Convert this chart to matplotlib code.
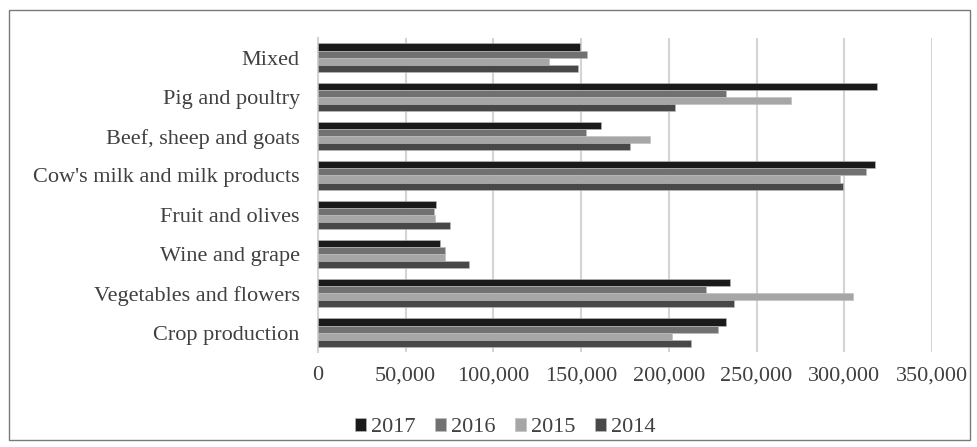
import numpy as np
import matplotlib.pyplot as plt
from matplotlib.patches import Rectangle
from matplotlib.ticker import FuncFormatter

# categories listed from bottom to top
categories = ["Crop production", "Vegetables and flowers", "Wine and grape",
              "Fruit and olives", "Cow's milk and milk products",
              "Beef, sheep and goats", "Pig and poultry", "Mixed"]
years = ["2017", "2016", "2015", "2014"]
v2017 = [232600, 234800, 69600, 67400, 317300, 161300, 318600, 149400]
v2016 = [227800, 221400, 72400, 66100, 312300, 152700, 232600, 153600]
v2015 = [202000, 304800, 72400, 66700, 297600, 189500, 269400, 132000]
v2014 = [212500, 237400, 86200, 75300, 299300, 177700, 203500, 148100]
colors = ["#1a1a1a", "#717171", "#a6a6a6", "#484848"]

plt.rcParams['font.family'] = ['Liberation Serif', 'DejaVu Serif']

fig = plt.figure(figsize=(9.78, 4.47), dpi=100)
fig.patches.append(Rectangle((0.009, 0.016), 0.983, 0.962, transform=fig.transFigure,
                             fill=False, edgecolor="#7a7a7a", linewidth=1))
ax = fig.add_axes([0.325, 0.212, 0.628, 0.703])

y = np.arange(len(categories))
h = 0.18
series = [v2017, v2016, v2015, v2014]
for i, (vals, yr, c) in enumerate(zip(series, years, colors)):
    offset = (1.5 - i) * h
    ax.barh(y + offset, vals, height=h, color=c, label=yr,
            edgecolor="#bdbdbd", linewidth=0.4, zorder=3)

ax.set_xlim(0, 350000)
ax.set_ylim(-0.5, len(categories) - 0.5)
ax.set_xticks(np.arange(0, 350001, 50000))
ax.xaxis.set_major_formatter(FuncFormatter(lambda v, p: f"{int(v):,}"))
ax.set_yticks(y)
ax.set_yticklabels(categories)
ax.grid(axis="x", color="#d4d4d4", linewidth=1.5, zorder=0)
for s in ["top", "right", "bottom"]:
    ax.spines[s].set_visible(False)
ax.spines["left"].set_color("#d4d4d4")
ax.spines["left"].set_linewidth(1.5)
ax.tick_params(axis="both", length=0, labelsize=16, colors="#404040")
ax.tick_params(axis="y", pad=13)
ax.tick_params(axis="x", pad=10)

ax.legend(loc="center", bbox_to_anchor=(0.305, -0.24), ncol=4, frameon=False,
          fontsize=16, handlelength=0.5, handleheight=0.5, handletextpad=0.25,
          columnspacing=0.85, labelcolor="#404040")

fig.savefig("out.png", dpi=100)
